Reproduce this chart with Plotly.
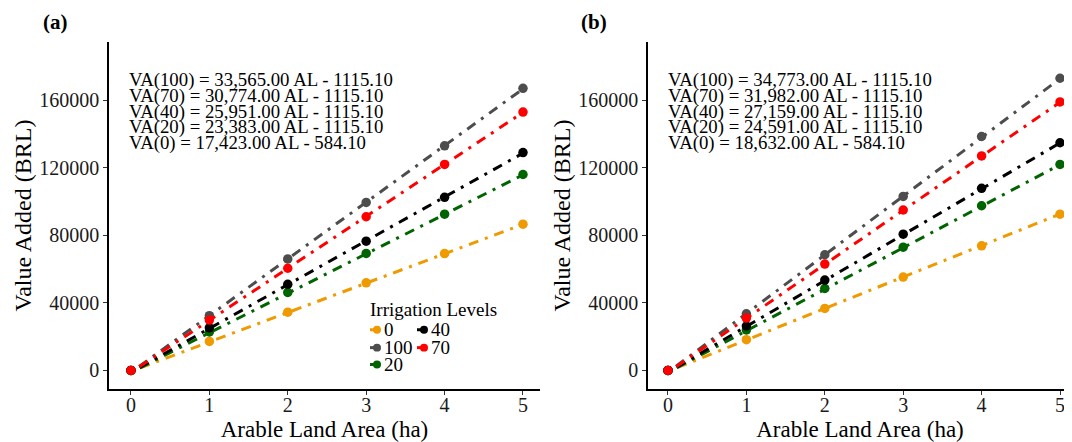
import numpy as np
import plotly.graph_objects as go

# page is rendered with an 8px body margin; figure size chosen to fill the 1072x442 window
OFF = 8
W, H = 1072 - OFF, 442 - OFF

# ---------------- data ----------------
area = [0, 1, 2, 3, 4, 5]
levels = ["0", "100", "20", "40", "70"]
level_colors = ["#EE9A00", "#4D4D4D", "#006400", "#000000", "#FF0000"]

# panel (a) observed points
va0_a = [0, 17200, 34500, 51900, 69200, 86600]
va100_a = [0, 32400, 66000, 99500, 133000, 167000]
va20_a = [0, 22800, 46200, 69300, 92500, 116000]
va40_a = [0, 25200, 51000, 76500, 102500, 129000]
va70_a = [0, 29800, 60500, 91000, 122000, 153000]

# panel (b) observed points
va0_b = [0, 18200, 36700, 55300, 73800, 92500]
va100_b = [0, 33500, 68500, 103000, 138500, 173000]
va20_b = [0, 24000, 48500, 73000, 97500, 122000]
va40_b = [0, 26300, 53500, 80700, 107800, 134800]
va70_b = [0, 31000, 63000, 95000, 127000, 159000]

# fitted equations (order of levels)
slopes_a = [17423.00, 33565.00, 23383.00, 25951.00, 30774.00]
intercepts_a = [584.10, 1115.10, 1115.10, 1115.10, 1115.10]
slopes_b = [18632.00, 34773.00, 24591.00, 27159.00, 31982.00]
intercepts_b = [584.10, 1115.10, 1115.10, 1115.10, 1115.10]

eq_order = ["100", "70", "40", "20", "0"]

y_ticks = [0, 40000, 80000, 120000, 160000]
y_ticktext = ["0", "40000", "80000", "120000", "160000"]
x_ticks = [0, 1, 2, 3, 4, 5]

series_a = [va0_a, va100_a, va20_a, va40_a, va70_a]
series_b = [va0_b, va100_b, va20_b, va40_b, va70_b]

FONT = "Liberation Serif"
DASH = "3px,7px,10px,7px"


def px(x):
    return (x - OFF) / W


def py(y):
    return 1 - (y - OFF) / H


fig = go.Figure()


def add_panel(series, slopes, intercepts, xa, ya):
    x_line = np.linspace(min(area), max(area), 50)
    for lev, col, vals, s, b in zip(levels, level_colors, series, slopes, intercepts):
        fig.add_trace(go.Scatter(
            x=x_line, y=s * x_line - b, mode="lines",
            line=dict(color=col, width=3, dash=DASH),
            xaxis=xa, yaxis=ya, showlegend=False, hoverinfo="skip"))
        fig.add_trace(go.Scatter(
            x=area, y=vals, mode="markers",
            marker=dict(color=col, size=9.5),
            xaxis=xa, yaxis=ya, showlegend=False, name=lev))


add_panel(series_a, slopes_a, intercepts_a, "x", "y")
add_panel(series_b, slopes_b, intercepts_b, "x2", "y2")

# ---------------- axes ----------------
ydom = [py(392), py(42)]
axis_common = dict(
    showgrid=False, zeroline=False, showline=True, linecolor="black", linewidth=1.5,
    ticks="outside", ticklen=4, tickcolor="#333333", tickwidth=1,
    tickfont=dict(family=FONT, size=20, color="#1a1a1a"),
)
xtitle = dict(text="Arable Land Area (ha)", font=dict(family=FONT, size=23, color="black"), standoff=10)
ytitle = dict(text="Value Added (BRL)", font=dict(family=FONT, size=24, color="black"), standoff=1)
fig.update_layout(
    xaxis=dict(domain=[px(109), px(540)], range=[-0.28, 5.217], tickvals=x_ticks,
               title=xtitle, anchor="y", ticklabelstandoff=-7, **axis_common),
    yaxis=dict(domain=ydom, range=[-11200, 194600], tickvals=y_ticks, ticktext=y_ticktext,
               title=ytitle, anchor="x", **axis_common),
    xaxis2=dict(domain=[px(648), 1.0], range=[-0.255, 5.153], tickvals=x_ticks,
                title=xtitle, anchor="y2", ticklabelstandoff=-7, **axis_common),
    yaxis2=dict(domain=ydom, range=[-11200, 194600], tickvals=y_ticks, ticktext=y_ticktext,
                title=ytitle, anchor="x2", **axis_common),
)

# ---------------- annotations ----------------
ann = []
line_y = [81, 97, 112.5, 128, 143.5]


def eq_text(lev, slopes, intercepts):
    i = levels.index(lev)
    return f"VA({lev}) = {slopes[i]:,.2f} AL - {intercepts[i]:.2f}"


for x0, slopes, intercepts in [(127, slopes_a, intercepts_a), (666, slopes_b, intercepts_b)]:
    for lev, yy in zip(eq_order, line_y):
        ann.append(dict(text=eq_text(lev, slopes, intercepts), xref="paper", yref="paper",
                        x=px(x0), y=py(yy), xanchor="left", yanchor="middle", showarrow=False,
                        font=dict(family=FONT, size=18.8, color="black")))

ann.append(dict(text="<b>(a)</b>", xref="paper", yref="paper", x=px(55), y=py(22),
                xanchor="center", yanchor="middle", borderpad=0,
                showarrow=False, font=dict(family=FONT, size=21, color="black")))
ann.append(dict(text="<b>(b)</b>", xref="paper", yref="paper", x=px(594), y=py(22),
                xanchor="center", yanchor="middle", borderpad=0,
                showarrow=False, font=dict(family=FONT, size=21, color="black")))

# manual two-column legend (panel a)
ann.append(dict(text="Irrigation Levels", xref="paper", yref="paper", x=px(368), y=py(312),
                xanchor="left", yanchor="middle", showarrow=False,
                font=dict(family=FONT, size=19, color="black")))
legend_pos = {"0": (377, 332), "40": (424, 332), "100": (377, 350), "70": (424, 350), "20": (377, 367)}
shapes = []
for lev, col in zip(levels, level_colors):
    lx, ly = legend_pos[lev]
    shapes.append(dict(type="line", xref="paper", yref="paper",
                       x0=px(lx - 7), x1=px(lx), y0=py(ly), y1=py(ly),
                       line=dict(color=col, width=3)))
    shapes.append(dict(type="circle", xref="paper", yref="paper",
                       x0=px(lx - 4), x1=px(lx + 4), y0=py(ly - 4), y1=py(ly + 4),
                       fillcolor=col, line=dict(color=col, width=0)))
    ann.append(dict(text=lev, xref="paper", yref="paper", x=px(lx + 5), y=py(ly),
                    xanchor="left", yanchor="middle", showarrow=False,
                    font=dict(family=FONT, size=19, color="black")))

fig.update_layout(
    width=W, height=H, margin=dict(l=0, r=0, t=0, b=0),
    plot_bgcolor="white", paper_bgcolor="white",
    annotations=ann, shapes=shapes, showlegend=False,
)

fig.write_html("out.html")
